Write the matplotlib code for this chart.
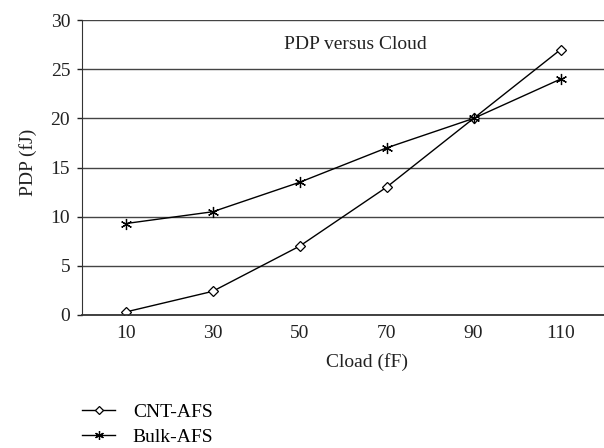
import matplotlib
matplotlib.use('Agg')
import matplotlib.pyplot as plt

# Data
cload = ['10', '30', '50', '70', '90', '110']
cnt_afs = [0.3, 2.4, 7.0, 13.0, 20.0, 27.0]
bulk_afs = [9.3, 10.5, 13.5, 17.0, 20.0, 24.0]
y_ticks = [0, 5, 10, 15, 20, 25, 30]

plt.rcParams['font.family'] = ['Liberation Serif', 'DejaVu Serif']
plt.rcParams['font.size'] = 14

fig = plt.figure(figsize=(6.04, 4.48), dpi=100)
ax = fig.add_axes([0.136, 0.297, 0.864, 0.658])

x = list(range(len(cload)))
l1, = ax.plot(x, cnt_afs, color='black', lw=1, marker='D', markersize=5,
              markerfacecolor='white', markeredgewidth=0.9, label='CNT-AFS')
l2, = ax.plot(x, bulk_afs, color='black', lw=1, marker=(6, 2, 0), markersize=8,
              markeredgewidth=0.9, label='Bulk-AFS')

ax.set_xlim(-0.5, len(cload) - 0.5)
ax.set_ylim(0, 30)
ax.set_xticks(x)
ax.set_xticklabels(cload)
ax.set_yticks(y_ticks)
ax.tick_params(axis='x', length=0, pad=7, colors='#222222')
ax.tick_params(axis='y', length=3.6, width=1, colors='#222222', pad=5)
ax.yaxis.grid(True, color='#444444', lw=1)
ax.set_axisbelow(True)

for s in ['top', 'right']:
    ax.spines[s].set_visible(False)
ax.spines['left'].set_color('#333333')
ax.spines['bottom'].set_color('#333333')
ax.spines['bottom'].set_linewidth(1.3)

ax.text(0.523, 27.5, 'PDP versus Cloud', transform=ax.get_yaxis_transform(),
        ha='center', va='center', color='#222222')
fig.text(367 / 604, 1 - 362 / 448, 'Cload (fF)', ha='center', va='center',
         color='#222222')
fig.text(28 / 604, 1 - 162 / 448, 'PDP (fJ)', ha='center', va='center',
         rotation=90, color='#222222')

fig.legend(handles=[l1, l2], loc='lower left', bbox_to_anchor=(0.133, 0.0),
           frameon=False, handlelength=1.7, handletextpad=0.9, labelspacing=0.4,
           borderpad=0, borderaxespad=0.1, markerscale=0.8)

fig.savefig('out.png', dpi=100)
